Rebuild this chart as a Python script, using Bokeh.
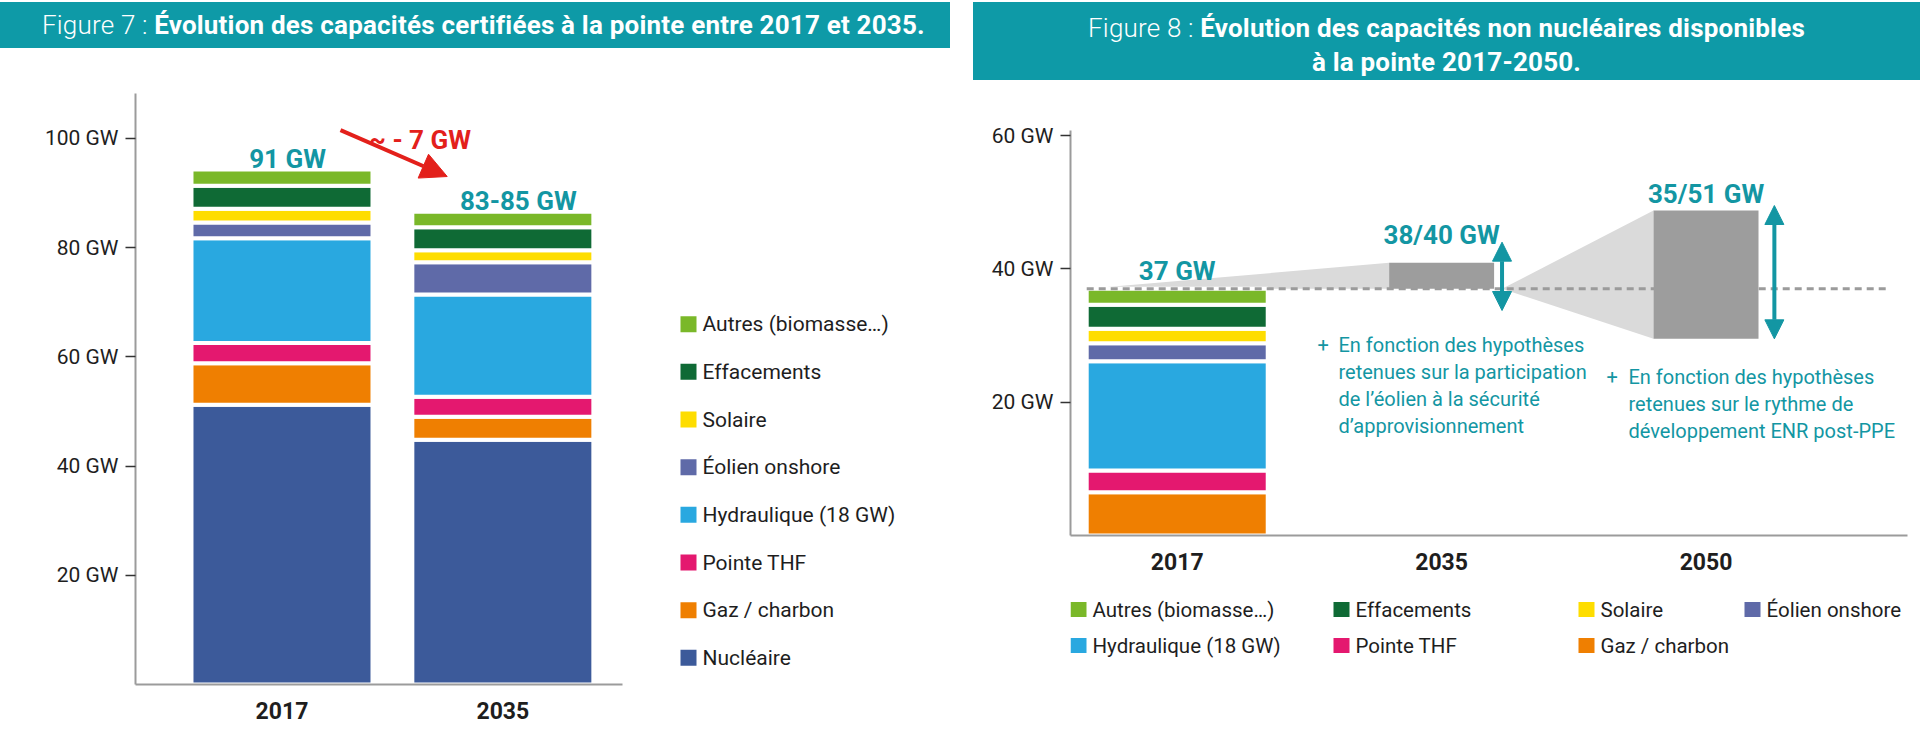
from bokeh.plotting import figure
from bokeh.models import (ColumnDataSource, Range1d, FixedTicker, PrintfTickFormatter,
                          Div, Arrow, NormalHead)
from bokeh.layouts import row, column
from bokeh.embed import file_html
from bokeh.resources import INLINE
from bokeh.core.properties import value

FONT = "Roboto"

# ---------------------------------------------------------------- data
series_names = ["Nucléaire", "Gaz / charbon", "Pointe THF", "Hydraulique (18 GW)",
                "Éolien onshore", "Solaire", "Effacements", "Autres (biomasse…)"]
series_keys = ["nucleaire", "gaz", "thf", "hydro", "eolien", "solaire", "effacements", "autres"]
series_colors = ["#3C5A9A", "#EF7F01", "#E4186F", "#29A8E0",
                 "#5F6AA8", "#FEDD00", "#0F6A35", "#7AB829"]

# Figure 7 : capacités certifiées (GW)
years_fig7 = ["2017", "2035"]
nucleaire_fig7 = [51.2, 44.8]
gaz_fig7 = [7.6, 4.2]
thf_fig7 = [3.7, 3.7]
hydro_fig7 = [19.2, 18.7]
eolien_fig7 = [2.9, 5.9]
solaire_fig7 = [2.5, 2.2]
effacements_fig7 = [4.2, 4.2]
autres_fig7 = [3.0, 2.85]
total_labels_fig7 = ["91 GW", "83-85 GW"]
delta_label_fig7 = "~ - 7 GW"
yticks_fig7 = [20, 40, 60, 80, 100]

# Figure 8 : capacités non nucléaires (GW)
years_fig8 = ["2017", "2035", "2050"]
gaz_fig8 = [6.5]
thf_fig8 = [3.25]
hydro_fig8 = [16.4]
eolien_fig8 = [2.7]
solaire_fig8 = [2.15]
effacements_fig8 = [3.6]
autres_fig8 = [2.4]
range_low_fig8 = [37.0, 29.5]      # 2035, 2050
range_high_fig8 = [40.9, 48.75]
arrow_low_fig8 = [33.75, 29.5]
arrow_high_fig8 = [44.0, 49.5]
labels_fig8 = ["37 GW", "38/40 GW", "35/51 GW"]
note_2035 = ["En fonction des hypothèses", "retenues sur la participation",
             "de l’éolien à la sécurité", "d’approvisionnement"]
note_2050 = ["En fonction des hypothèses", "retenues sur le rythme de",
             "développement ENR post-PPE"]
yticks_fig8 = [20, 40, 60]

# ---------------------------------------------------------------- styles
BANNER = "#0E9AA7"
TEAL = "#1396A3"
RED = "#E3201B"
AXIS_GREY = "#9B9B9B"
TEXT = "#1E1E1E"
CONE = "#DADADA"
BOX = "#9D9D9D"


def style_axes(p, xticks, xlabels, yticks):
    p.xgrid.visible = False
    p.ygrid.visible = False
    p.outline_line_color = None
    p.background_fill_color = "white"
    p.border_fill_color = "white"
    ya = p.yaxis[0]
    ya.ticker = FixedTicker(ticks=yticks)
    ya.formatter = PrintfTickFormatter(format="%d GW")
    ya.axis_line_color = AXIS_GREY
    ya.axis_line_width = 2
    ya.major_tick_line_color = "#333333"
    ya.major_tick_line_width = 1.5
    ya.major_tick_in = 0
    ya.major_tick_out = 10
    ya.minor_tick_line_color = None
    ya.major_label_standoff = 7
    ya.major_label_text_font = FONT
    ya.major_label_text_font_size = "21px"
    ya.major_label_text_color = TEXT
    xa = p.xaxis[0]
    xa.ticker = FixedTicker(ticks=xticks)
    xa.major_label_overrides = {t: lab for t, lab in zip(xticks, xlabels)}
    xa.axis_line_color = AXIS_GREY
    xa.axis_line_width = 2
    xa.major_tick_line_color = None
    xa.minor_tick_line_color = None
    xa.major_label_standoff = 11
    xa.major_label_text_font = FONT
    xa.major_label_text_font_style = "bold"
    xa.major_label_text_font_size = "23px"
    xa.major_label_text_color = TEXT


def legend_panel(width, height, borders, xr, yr, names, colors, xs, ys, sw, sh, font_size):
    """Legend drawn in its own panel, whose frame uses page-pixel coordinates."""
    bl, br, bt, bb = borders
    lp = figure(width=width, height=height, x_range=Range1d(*xr), y_range=Range1d(*yr),
                x_axis_type=None, y_axis_type=None, output_backend="svg",
                toolbar_location=None, min_border_left=bl, min_border_right=br,
                min_border_top=bt, min_border_bottom=bb)
    lp.outline_line_color = None
    lp.grid.visible = False
    src = ColumnDataSource(dict(x=xs, y=ys, tx=[x + sw / 2 + 6 for x in xs],
                                color=colors, label=names))
    lp.rect(x="x", y="y", width=sw, height=sh, fill_color="color", line_color=None, source=src)
    lp.text(x="tx", y="y", text="label", source=src, text_baseline="middle", text_align="left",
            text_color=TEXT, text_font=value(FONT), text_font_size=font_size)
    return lp


# ================================================================ Figure 7
x7 = list(range(len(years_fig7)))
data7 = dict(x=x7, nucleaire=nucleaire_fig7, gaz=gaz_fig7, thf=thf_fig7, hydro=hydro_fig7,
             eolien=eolien_fig7, solaire=solaire_fig7, effacements=effacements_fig7,
             autres=autres_fig7)
src7 = ColumnDataSource(data7)
totals7 = [sum(data7[k][i] for k in series_keys) for i in range(len(x7))]

P7_BORDERS = (135, 8, 45, 56)          # left, right, top, bottom
p7 = figure(width=630, height=692, x_range=Range1d(-0.6633, 1.5418), y_range=Range1d(0, 108.2),
            output_backend="svg", toolbar_location=None,
            min_border_left=P7_BORDERS[0], min_border_right=P7_BORDERS[1],
            min_border_top=P7_BORDERS[2], min_border_bottom=P7_BORDERS[3])
style_axes(p7, x7, years_fig7, yticks_fig7)

p7.vbar_stack(series_keys, x="x", width=0.8196, source=src7,
              fill_color=series_colors, line_color="white", line_width=4)

lab7 = ColumnDataSource(dict(x=[x7[0] + 0.025, x7[1] + 0.07],
                             y=[t + 1.9 for t in totals7], text=total_labels_fig7))
p7.text(x="x", y="y", text="text", source=lab7, text_align="center",
        text_baseline="alphabetic", text_color=TEAL, text_font=value(FONT),
        text_font_style="bold", text_font_size="26px")

p7.add_layout(Arrow(start=None,
                    end=NormalHead(size=26, fill_color=RED, line_color=RED, line_width=1),
                    x_start=0.265, y_start=101.5, x_end=0.748, y_end=93.0,
                    line_color=RED, line_width=4))
p7.text(x=[0.625], y=[99.6], text=[delta_label_fig7], text_align="center",
        text_baseline="alphabetic", text_color=RED, text_font=value(FONT),
        text_font_style="bold", text_font_size="26px")

# legend of Figure 7 (top -> bottom); panel frame shares p7's top/bottom borders
leg7_names = series_names[::-1]
leg7_colors = series_colors[::-1]
LEG7_X, LEG7_Y0, LEG7_PITCH = 688, 323.7, 47.66
lf7 = legend_panel(343, 692, (0, 0, P7_BORDERS[2], P7_BORDERS[3]), (630, 973), (684, 93),
                   leg7_names, leg7_colors,
                   [LEG7_X] * len(leg7_names),
                   [LEG7_Y0 + i * LEG7_PITCH for i in range(len(leg7_names))],
                   16, 16, "21px")

# ================================================================ Figure 8
x8 = list(range(len(years_fig8)))
keys8 = series_keys[1:]
data8 = dict(x=[x8[0]], gaz=gaz_fig8, thf=thf_fig8, hydro=hydro_fig8, eolien=eolien_fig8,
             solaire=solaire_fig8, effacements=effacements_fig8, autres=autres_fig8)
src8 = ColumnDataSource(data8)
total8 = sum(data8[k][0] for k in keys8)

P8_BORDERS = (97, 13, 50, 55)
p8 = figure(width=947, height=510, x_range=Range1d(-0.4036, 2.762), y_range=Range1d(0, 60.75),
            output_backend="svg", toolbar_location=None,
            min_border_left=P8_BORDERS[0], min_border_right=P8_BORDERS[1],
            min_border_top=P8_BORDERS[2], min_border_bottom=P8_BORDERS[3])
style_axes(p8, x8, years_fig8, yticks_fig8)

bar_w8 = 0.6846
box_w8 = 0.397
scen_x = x8[1:]
arrow_x = [scen_x[0] + box_w8 / 2 + 0.03, scen_x[1] + box_w8 / 2 + 0.06]

cone_xs = [[x8[0] - bar_w8 / 2, scen_x[0] - box_w8 / 2, scen_x[0] - box_w8 / 2],
           [arrow_x[0], scen_x[1] - box_w8 / 2, scen_x[1] - box_w8 / 2]]
cone_ys = [[total8, range_high_fig8[0], range_low_fig8[0]],
           [total8, range_high_fig8[1], range_low_fig8[1]]]
p8.patches(xs=cone_xs, ys=cone_ys, fill_color=CONE, line_color=None)

p8.vbar_stack(keys8, x="x", width=bar_w8, source=src8,
              fill_color=series_colors[1:], line_color="white", line_width=4)

p8.line(x=[x8[0] - bar_w8 / 2, 2.686], y=[total8, total8], line_color=AXIS_GREY,
        line_width=3, line_dash="7 5")

p8.vbar(x=scen_x, bottom=range_low_fig8, top=range_high_fig8, width=box_w8,
        fill_color=BOX, line_color=None)

for ax, lo, hi in zip(arrow_x, arrow_low_fig8, arrow_high_fig8):
    p8.add_layout(Arrow(start=NormalHead(size=19, fill_color=TEAL, line_color=TEAL, line_width=1),
                        end=NormalHead(size=19, fill_color=TEAL, line_color=TEAL, line_width=1),
                        x_start=ax, y_start=lo, x_end=ax, y_end=hi,
                        line_color=TEAL, line_width=4))

lab8 = ColumnDataSource(dict(x=x8, y=[total8 + 2.75, range_high_fig8[0] + 4.25,
                                      range_high_fig8[1] + 2.55], text=labels_fig8))
p8.text(x="x", y="y", text="text", source=lab8, text_align="center",
        text_baseline="alphabetic", text_color=TEAL, text_font=value(FONT),
        text_font_style="bold", text_font_size="26px")

LINE_GW = 4.05
for note, nx, px_, y0 in [(note_2035, 0.610, 0.552, 28.65), (note_2050, 1.7068, 1.645, 23.85)]:
    p8.text(x=[nx] * len(note), y=[y0 - i * LINE_GW for i in range(len(note))], text=note,
            text_align="left", text_baseline="alphabetic", text_color=TEAL,
            text_font=value(FONT), text_font_size="20px")
    p8.text(x=[px_], y=[y0], text=["+"], text_align="center", text_baseline="alphabetic",
            text_color=TEAL, text_font=value(FONT), text_font_size="20px")

# legend of Figure 8 (4 columns x 2 rows, row-major); panel frame shares p8's left/right borders
name_of = dict(zip(series_keys, series_names))
color_of = dict(zip(series_keys, series_colors))
leg8_keys = ["autres", "effacements", "solaire", "eolien", "hydro", "thf", "gaz"]
LEG8_COLS = [1078, 1341, 1586, 1752]
LEG8_ROWS = [609, 645]
lf8 = legend_panel(947, 150, (P8_BORDERS[0], P8_BORDERS[1], 0, 0), (1070, 1907), (740, 590),
                   [name_of[k] for k in leg8_keys], [color_of[k] for k in leg8_keys],
                   [LEG8_COLS[i % 4] for i in range(len(leg8_keys))],
                   [LEG8_ROWS[i // 4] for i in range(len(leg8_keys))],
                   16, 15, "20.5px")

# ================================================================ banners
title7 = Div(
    text=(f'<div style="box-sizing:border-box;width:950px;height:46px;font-family:\'{FONT}\',sans-serif;'
          'font-size:26px;color:#ffffff;line-height:46px;padding-left:42px;white-space:nowrap;'
          'letter-spacing:0.2px;">'
          '<span style="font-weight:300;">Figure 7 : </span>'
          '<b>Évolution des capacités certifiées à la pointe entre 2017 et 2035.</b></div>'),
    width=950, height=46, margin=(2, 23, 0, 0),
    styles={"background-color": BANNER, "overflow": "hidden"})

title8 = Div(
    text=(f'<div style="box-sizing:border-box;width:947px;height:78px;font-family:\'{FONT}\',sans-serif;'
          'font-size:26px;color:#ffffff;line-height:34px;padding-top:9px;text-align:center;'
          'white-space:nowrap;letter-spacing:0.2px;">'
          '<span style="font-weight:300;">Figure 8 : </span>'
          '<b>Évolution des capacités non nucléaires disponibles</b><br>'
          '<b>à la pointe 2017-2050.</b></div>'),
    width=947, height=78, margin=(2, 0, 0, 0),
    styles={"background-color": BANNER, "overflow": "hidden"})

layout = row(column(title7, row(p7, lf7, spacing=0), spacing=0),
             column(title8, p8, lf8, spacing=0), spacing=0)

open("out.html", "w").write(file_html(layout, INLINE))
